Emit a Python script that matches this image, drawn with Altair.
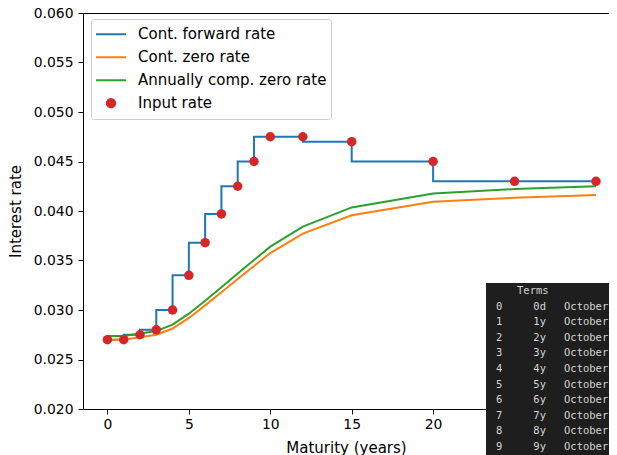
import altair as alt
import pandas as pd

FONT = "DejaVu Sans"
MONO = "DejaVu Sans Mono"

# ---- data ----
maturity = [0, 1, 2, 3, 4, 5, 6, 7, 8, 9, 10, 12, 15, 20, 25, 30]
input_rate = [0.0270, 0.0270, 0.0275, 0.0280, 0.0300, 0.0335, 0.0368, 0.0397,
              0.0425, 0.0450, 0.0475, 0.0475, 0.0470, 0.0450, 0.0430, 0.0430]
forward_rate = [0.0270, 0.0270, 0.0275, 0.0280, 0.0300, 0.0335, 0.0368, 0.0397,
                0.0425, 0.0450, 0.0475, 0.0475, 0.0470, 0.0450, 0.0430, 0.0430]
zero_cont = [0.02700, 0.02700, 0.02725, 0.02750, 0.02813, 0.02920, 0.03047, 0.03179,
             0.03313, 0.03444, 0.03575, 0.03771, 0.03957, 0.04093, 0.04134, 0.04162]
zero_annual = [0.02737, 0.02737, 0.02762, 0.02788, 0.02852, 0.02963, 0.03094, 0.03230,
               0.03368, 0.03504, 0.03640, 0.03843, 0.04036, 0.04177, 0.04221, 0.04250]

series_labels = ["Cont. forward rate", "Cont. zero rate", "Annually comp. zero rate", "Input rate"]
series_colors = ["#1f77b4", "#ff7f0e", "#2ca02c", "#d62728"]

x_ticks = [0, 5, 10, 15, 20]
y_ticks = [0.020, 0.025, 0.030, 0.035, 0.040, 0.045, 0.050, 0.055, 0.060]

# console overlay (bottom right)
table_header = ["Terms"]
table_index = ["0", "1", "2", "3", "4", "5", "6", "7", "8", "9"]
table_terms = ["0d", "1y", "2y", "3y", "4y", "5y", "6y", "7y", "8y", "9y"]
table_month = ["October", "October", "October", "October", "October",
               "October", "October", "October", "October", "October"]

# ---- frames ----
fwd_df = pd.DataFrame({"maturity": maturity, "rate": forward_rate, "series": series_labels[0]})
zero_df = pd.concat([
    pd.DataFrame({"maturity": maturity, "rate": zero_cont, "series": series_labels[1]}),
    pd.DataFrame({"maturity": maturity, "rate": zero_annual, "series": series_labels[2]}),
])
pts_df = pd.DataFrame({"maturity": maturity, "rate": input_rate, "series": series_labels[3]})

x_scale = alt.Scale(domain=[-1.5, 30.8], nice=False, zero=False)
y_scale = alt.Scale(domain=[0.02, 0.06], nice=False, zero=False)

axis_common = dict(grid=False, tickSize=5, domainColor="black",
                   tickColor="black", labelColor="black", titleColor="black",
                   labelFontSize=13.9, titleFontSize=15, titleFontWeight="normal",
                   labelFont=FONT, titleFont=FONT, domainWidth=1, tickWidth=1,
                   labelFlush=False)
x_axis = alt.Axis(values=x_ticks, format="d", title="Maturity (years)", labelPadding=3,
                  titlePadding=10, **axis_common)
y_axis = alt.Axis(values=y_ticks, format=".3f", title="Interest rate", labelPadding=5,
                  titlePadding=10, **axis_common)

IS_PT = "datum.value === 'Input rate'"
legend = alt.Legend(
    title=None, orient="none", legendX=8, legendY=6, padding=4, rowPadding=0,
    clipHeight=22.3, symbolStrokeWidth=2, labelOffset=11, labelLimit=400,
    symbolType=alt.ExprRef(expr=f"{IS_PT} ? 'circle' : 'stroke'"),
    symbolSize=alt.ExprRef(expr=f"{IS_PT} ? 70 : 900"),
    symbolFillColor=alt.ExprRef(expr=f"{IS_PT} ? '#d62728' : 'transparent'"),
    symbolOpacity=1,
    labelFontSize=15, labelFont=FONT, labelColor="black",
    strokeColor="#cccccc", fillColor="rgba(255,255,255,0.8)", cornerRadius=3,
)

color_enc = alt.Color("series:N", scale=alt.Scale(domain=series_labels, range=series_colors), legend=legend)
X = alt.X("maturity:Q", scale=x_scale, axis=x_axis)
Y = alt.Y("rate:Q", scale=y_scale, axis=y_axis)

top_spine = alt.Chart(alt.Data(values=[{}])).mark_rule(color="black", strokeWidth=1, yOffset=0.5).encode(
    y=alt.datum(0.06, scale=y_scale))

fwd = alt.Chart(fwd_df).mark_line(interpolate="step-before", strokeWidth=2).encode(x=X, y=Y, color=color_enc)
zero = alt.Chart(zero_df).mark_line(strokeWidth=2).encode(x=X, y=Y, color=color_enc, detail="series:N")
pts = alt.Chart(pts_df).mark_point(filled=True, size=90, opacity=1, shape="circle").encode(x=X, y=Y, color=color_enc)

main = alt.layer(top_spine, fwd, zero, pts)

# ---- console overlay ----
row_scale = alt.Scale(domain=[-1, 9], range=[277.9, 433.9])
tbl_df = pd.DataFrame({"row": list(range(10)), "idx": table_index, "term": table_terms, "month": table_month})
hdr_df = pd.DataFrame({"row": [-1], "text": table_header})

panel = alt.Chart(alt.Data(values=[{}])).mark_rect(color="#1e1e1e").encode(
    x=alt.value(403), x2=alt.value(526), y=alt.value(270), y2=alt.value(442))
txt = dict(baseline="middle", font=MONO, fontSize=10.5, color="#d4d4d4")
hdr = alt.Chart(hdr_df).mark_text(align="left", **txt).encode(
    x=alt.value(434), y=alt.Y("row:Q", scale=row_scale, axis=None), text="text:N")
idx_t = alt.Chart(tbl_df).mark_text(align="left", **txt).encode(
    x=alt.value(413), y=alt.Y("row:Q", scale=row_scale, axis=None), text="idx:N")
term_t = alt.Chart(tbl_df).mark_text(align="right", **txt).encode(
    x=alt.value(463), y=alt.Y("row:Q", scale=row_scale, axis=None), text="term:N")
month_t = alt.Chart(tbl_df).mark_text(align="left", **txt).encode(
    x=alt.value(481), y=alt.Y("row:Q", scale=row_scale, axis=None), text="month:N")

table = alt.layer(panel, hdr, idx_t, term_t, month_t)

chart = alt.layer(main, table).resolve_scale(y="independent").properties(
    width=526, height=396,
    autosize=alt.AutoSizeParams(type="none"),
    padding={"left": 75, "top": 5, "right": 0, "bottom": 46},
    background="white",
).configure_view(stroke="transparent")

chart.save("out.html", embed_options={"renderer": "svg", "actions": False})
